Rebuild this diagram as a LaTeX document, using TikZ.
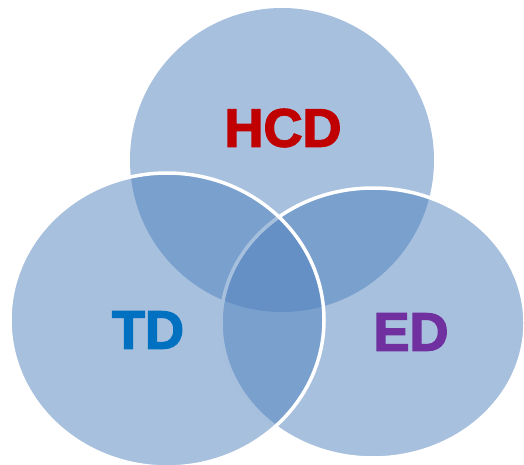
\documentclass[tikz,border=0pt]{standalone}
\usepackage{fontspec}
\setmainfont{Liberation Sans}
\newfontfamily\vennFont[FakeBold=2.5]{Liberation Sans Bold}
\usepackage{tikz}

\definecolor{setBlue}{HTML}{4F81BD}
\definecolor{hcdRed}{HTML}{C00000}
\definecolor{tdBlue}{HTML}{0070C0}
\definecolor{edPurple}{HTML}{7030A0}

\begin{document}
\begin{tikzpicture}[x=1pt,y=-1pt,%%
  setStyle/.style={fill=setBlue,fill opacity=0.5},%%
  edgeStyle/.style={setStyle,draw=white,draw opacity=1,line width=3.5pt},%%
  labelStyle/.style={font=\vennFont\fontsize{54}{60}\selectfont}%%
]
%%
\useasboundingbox (0,0) rectangle (524,465);
%%
\pgfmathsetmacro{\rtop}{152}
\pgfmathsetmacro{\rxleft}{157}
\pgfmathsetmacro{\ryleft}{147}
\pgfmathsetmacro{\rxright}{152}
\pgfmathsetmacro{\ryright}{135}
%%
%% Centres of the three sets.
\coordinate (hcdCentre) at (282,160);
\coordinate (tdCentre) at (167,320);
\coordinate (edCentre) at (373,323);
%%
%% The top set.
\fill[setStyle] (hcdCentre) circle [radius=\rtop];
%% The right set.
\filldraw[edgeStyle] (edCentre) ellipse [x radius=\rxright, y radius=\ryright];
%% The left set.
\filldraw[edgeStyle] (tdCentre) ellipse [x radius=\rxleft, y radius=\ryleft];
%%
%% Labels.
\node[labelStyle,text=hcdRed] (hcd) at (283,128) {HCD};
\node[labelStyle,text=tdBlue] (td) at (148,330) {TD};
\node[labelStyle,text=edPurple] (ed) at (411,332) {ED};
\end{tikzpicture}
\end{document}
